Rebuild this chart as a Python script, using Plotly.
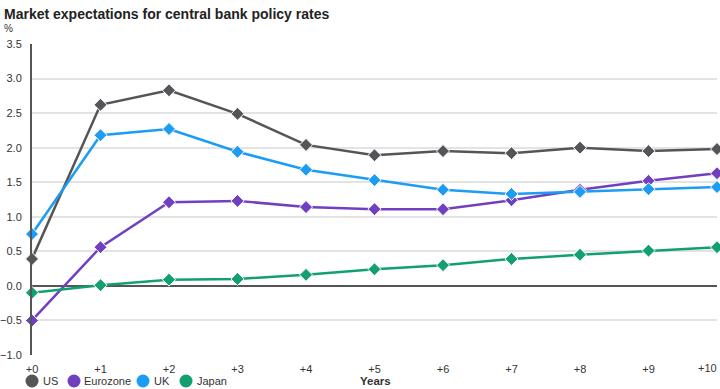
import plotly.graph_objects as go

years = list(range(11))
year_labels = ["+0", "+1", "+2", "+3", "+4", "+5", "+6", "+7", "+8", "+9", "+10"]
us = [0.39, 2.62, 2.83, 2.49, 2.04, 1.89, 1.95, 1.92, 2.00, 1.95, 1.98]
eurozone = [-0.50, 0.56, 1.21, 1.23, 1.14, 1.11, 1.11, 1.24, 1.39, 1.52, 1.63]
uk = [0.75, 2.18, 2.27, 1.94, 1.68, 1.53, 1.39, 1.33, 1.36, 1.40, 1.43]
japan = [-0.10, 0.01, 0.09, 0.10, 0.16, 0.24, 0.30, 0.39, 0.45, 0.51, 0.56]

series = [
    ("US", us, "#555559"),
    ("Eurozone", eurozone, "#7040c0"),
    ("UK", uk, "#1c9cf2"),
    ("Japan", japan, "#12a073"),
]

W, H = 720, 389
L, R, T, B = 32, 3, 44, 34
pw, ph = W - L - R, H - T - B

def px_x(p):
    return (p - L) / pw

def px_y(p):
    return (H - B - p) / ph

fig = go.Figure()
for name, vals, col in series:
    fig.add_trace(go.Scatter(
        x=years, y=vals, mode="lines+markers", name=name, showlegend=False,
        line=dict(color=col, width=2.5),
        marker=dict(symbol="diamond", size=10, color=col, line=dict(color="white", width=1)),
        cliponaxis=False,
    ))

# manual legend (circle swatch + label)
legend_pos = [(32, 41), (74, 82), (143, 152), (186, 195)]
shapes, annotations = [], []
leg_y = 381
for (name, vals, col), (cx, tx) in zip(series, legend_pos):
    shapes.append(dict(type="circle", xref="paper", yref="paper",
                       xsizemode="pixel", ysizemode="pixel",
                       xanchor=px_x(cx), yanchor=px_y(leg_y),
                       x0=-6.5, x1=6.5, y0=-6.5, y1=6.5,
                       fillcolor=col, line=dict(width=0)))
    annotations.append(dict(text=name, xref="paper", yref="paper", x=px_x(tx), y=px_y(leg_y),
                            xanchor="left", yanchor="middle", showarrow=False,
                            font=dict(size=11, color="#333333")))

# last x tick label placed inside the page edge
tick_text = year_labels[:-1] + [""]
annotations.append(dict(text=year_labels[-1], xref="paper", yref="paper", x=1, y=px_y(368),
                        xanchor="right", yanchor="middle", xshift=2, showarrow=False,
                        font=dict(size=11, color="#333333")))

annotations += [
    dict(text="<b>Market expectations for central bank policy rates</b>", xref="paper", yref="paper",
         x=px_x(2), y=px_y(14), xanchor="left", yanchor="middle", showarrow=False,
         font=dict(size=14, color="#222222")),
    dict(text="%", xref="paper", yref="paper", x=px_x(2), y=px_y(28),
         xanchor="left", yanchor="middle", showarrow=False, font=dict(size=10, color="#333333")),
    dict(text="<b>Years</b>", xref="paper", yref="paper", x=px_x(375), y=px_y(381),
         xanchor="center", yanchor="middle", showarrow=False, font=dict(size=11.5, color="#333333")),
]

fig.update_layout(
    width=W, height=H,
    margin=dict(l=L, r=R, t=T, b=B, autoexpand=False),
    paper_bgcolor="white", plot_bgcolor="white",
    font=dict(family="Liberation Sans, Arial, sans-serif", size=11, color="#333333"),
    showlegend=False,
    xaxis=dict(range=[0, 10], tickmode="array", tickvals=years, ticktext=tick_text,
               showgrid=False, zeroline=False, showline=False, ticks="",
               ticklabelstandoff=6, ticklabeloverflow="allow", automargin=False,
               tickfont=dict(size=11, color="#333333")),
    yaxis=dict(range=[-1.0, 3.5], dtick=0.5, tickformat=".1f",
               showgrid=True, gridcolor="#e3e3e3", gridwidth=1.5,
               zeroline=True, zerolinecolor="#555555", zerolinewidth=1.5,
               showline=True, linecolor="#555555", linewidth=2, automargin=False,
               ticks="", ticklabelstandoff=6, tickfont=dict(size=11, color="#333333")),
    shapes=shapes,
    annotations=annotations,
)

fig.write_html("out.html")
